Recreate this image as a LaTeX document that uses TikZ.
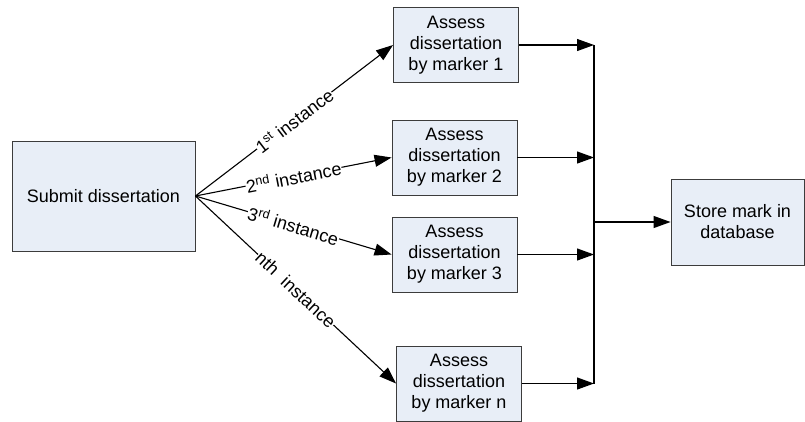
\documentclass[tikz,border=0pt]{standalone}
\usepackage{fontspec}
\setmainfont{Liberation Sans}
\usetikzlibrary{arrows.meta}
\definecolor{boxfill}{RGB}{232,238,247}
\definecolor{boxline}{RGB}{60,60,60}
\begin{document}
\begin{tikzpicture}[x=1pt,y=-1pt,
  font=\fontsize{18}{21}\selectfont,
  box/.style={draw=boxline, line width=0.9pt, fill=boxfill, align=center, inner sep=2pt},
  task/.style={box, minimum width=125pt, minimum height=75pt},
  arr/.style={line width=1.1pt, -{Triangle[length=17pt,width=12pt]}},
  lbl/.style={fill=white, inner sep=0.5pt, sloped, pos=0.5}]
\useasboundingbox (0,0) rectangle (805,421);

\node[box, minimum width=183pt, minimum height=110pt] (submit) at (103.5,196) {Submit dissertation};

\node[task] (m1) at (456,45)  {Assess\\dissertation\\by marker 1};
\node[task] (m2) at (454.5,157.5) {Assess\\dissertation\\by marker 2};
\node[task] (m3) at (454.5,254.5) {Assess\\dissertation\\by marker 3};
\node[task] (mn) at (459,383.5) {Assess\\dissertation\\by marker n};

\node[box, minimum width=133pt, minimum height=86pt] (store) at (737.5,222) {Store mark in\\database};

% distribution lines with instance labels
\draw[arr] (submit.east) -- node[lbl] {1\textsuperscript{st} instance} (m1.west);
\draw[arr] (submit.east) -- node[lbl] {2\textsuperscript{nd} instance} (m2.west);
\draw[arr] (submit.east) -- node[lbl] {3\textsuperscript{rd} instance} (m3.west);
\draw[arr] (submit.east) -- node[lbl] {nth\ \ instance} (mn.west);

% collecting bus
\coordinate (bus) at (594,0);
\draw[line width=1.1pt] (bus |- m1.east) -- (bus |- mn.east);
\draw[arr] (m1.east) -- (m1.east -| bus);
\draw[arr] (m2.east) -- (m2.east -| bus);
\draw[arr] (m3.east) -- (m3.east -| bus);
\draw[arr] (mn.east) -- (mn.east -| bus);
\draw[arr] (bus |- store.west) -- (store.west);
\end{tikzpicture}
\end{document}
